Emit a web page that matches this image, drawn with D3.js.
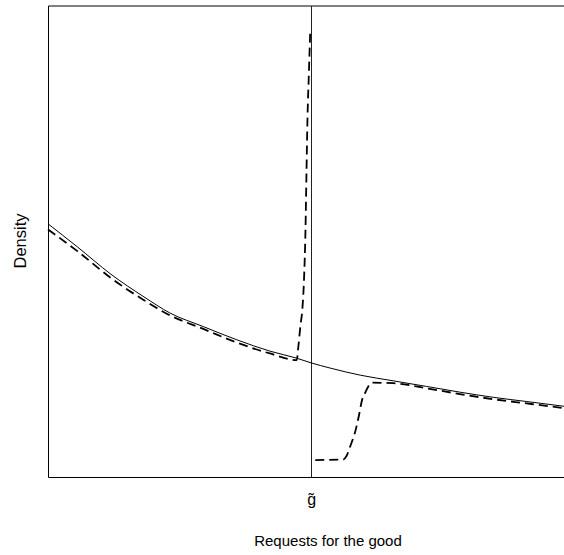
<!DOCTYPE html>
<html>
<head>
<meta charset="utf-8">
<script src="https://cdn.jsdelivr.net/npm/d3@7"></script>
<style>
  html, body { margin: 0; padding: 0; background: #fff; }
  svg { display: block; font-family: "Liberation Sans", Arial, sans-serif; }
</style>
</head>
<body>
<svg id="chart" width="564" height="555"></svg>
<script>
// Threshold value of requests for the good
const gTilde = 51;

// Underlying density (solid curve)
const baseRequests = [0, 5.7, 12.2, 18.6, 23.6, 30.1, 36.6, 43.0, 48.2, 51.0, 54.7, 60.5, 66.9, 73.4, 79.8, 86.3, 92.8, 100];
const baseDensity  = [53.7, 48.8, 43.0, 38.2, 34.8, 31.9, 29.1, 26.7, 25.2, 24.2, 23.1, 21.6, 20.4, 19.2, 18.0, 16.9, 16.0, 15.0];

// Observed density below the threshold (dashed, bunching just under g̃)
const lowRequests = [0, 5.7, 12.2, 18.6, 23.6, 30.1, 36.6, 43.0, 48.2, 48.55, 48.93, 49.28, 49.61, 49.9, 50.1, 50.29, 50.58, 50.81];
const lowDensity  = [52.5, 47.9, 42.2, 37.5, 34.3, 31.4, 28.5, 26.2, 24.8, 28.0, 32.2, 35.4, 41.8, 52.4, 65.1, 76.1, 86.3, 94.2];

// Observed density above the threshold (dashed, missing mass then recovery)
const highRequests = [51.8, 57.17, 57.85, 58.53, 59.63, 60.27, 60.85, 61.53, 62.02, 62.73, 66.9, 73.4, 79.8, 86.3, 92.8, 100];
const highDensity  = [3.6, 3.7, 4.45, 6.4, 10.0, 13.1, 16.3, 18.0, 19.1, 20.0, 19.9, 18.8, 17.6, 16.5, 15.6, 14.6];

const xLabel = "Requests for the good";
const yLabel = "Density";
const tickLabel = "g\u0303";

const svg = d3.select("#chart");
const plotLeft = 48, plotRight = 564, plotTop = 5.5, plotBottom = 477;

const x = d3.scaleLinear().domain([0, 100]).range([plotLeft, plotRight]);
const y = d3.scaleLinear().domain([0, 100]).range([plotBottom, plotTop]);

const zip = (xs, ys) => xs.map((v, i) => [v, ys[i]]);
const line = d3.line().x(d => x(d[0])).y(d => y(d[1])).curve(d3.curveMonotoneX);

// Plot frame (left, top, bottom)
svg.append("path")
  .attr("d", `M${plotRight + 4},6 H48.5 V477.5 H${plotRight + 4}`)
  .attr("fill", "none")
  .attr("stroke", "#000")
  .attr("stroke-width", 1);

// Threshold line
svg.append("line")
  .attr("x1", Math.round(x(gTilde)) + 0.5).attr("x2", Math.round(x(gTilde)) + 0.5)
  .attr("y1", 6).attr("y2", 477)
  .attr("stroke", "#222").attr("stroke-width", 1);

// Solid density
svg.append("path")
  .datum(zip(baseRequests, baseDensity))
  .attr("d", line)
  .attr("fill", "none")
  .attr("stroke", "#000")
  .attr("stroke-width", 1);

// Dashed densities
[zip(lowRequests, lowDensity), zip(highRequests, highDensity)].forEach(seg => {
  svg.append("path")
    .datum(seg)
    .attr("d", line)
    .attr("fill", "none")
    .attr("stroke", "#000")
    .attr("stroke-width", 1.8)
    .attr("stroke-dasharray", "9,5");
});

// Axis tick label at the threshold
const xAxis = d3.axisBottom(x).tickValues([gTilde]).tickSize(0).tickFormat(() => tickLabel);
const gx = svg.append("g").attr("transform", `translate(0,${plotBottom})`).call(xAxis);
gx.select(".domain").remove();
gx.selectAll("text")
  .attr("y", 28)
  .attr("dy", 0)
  .attr("font-size", 16)
  .attr("font-family", "Liberation Sans, Arial, sans-serif")
  .attr("fill", "#000");

// Axis titles
svg.append("text")
  .attr("x", 328).attr("y", 546)
  .attr("text-anchor", "middle")
  .attr("font-size", 15)
  .text(xLabel);

svg.append("text")
  .attr("transform", "translate(26,241) rotate(-90)")
  .attr("text-anchor", "middle")
  .attr("font-size", 16.5)
  .text(yLabel);
</script>
</body>
</html>
